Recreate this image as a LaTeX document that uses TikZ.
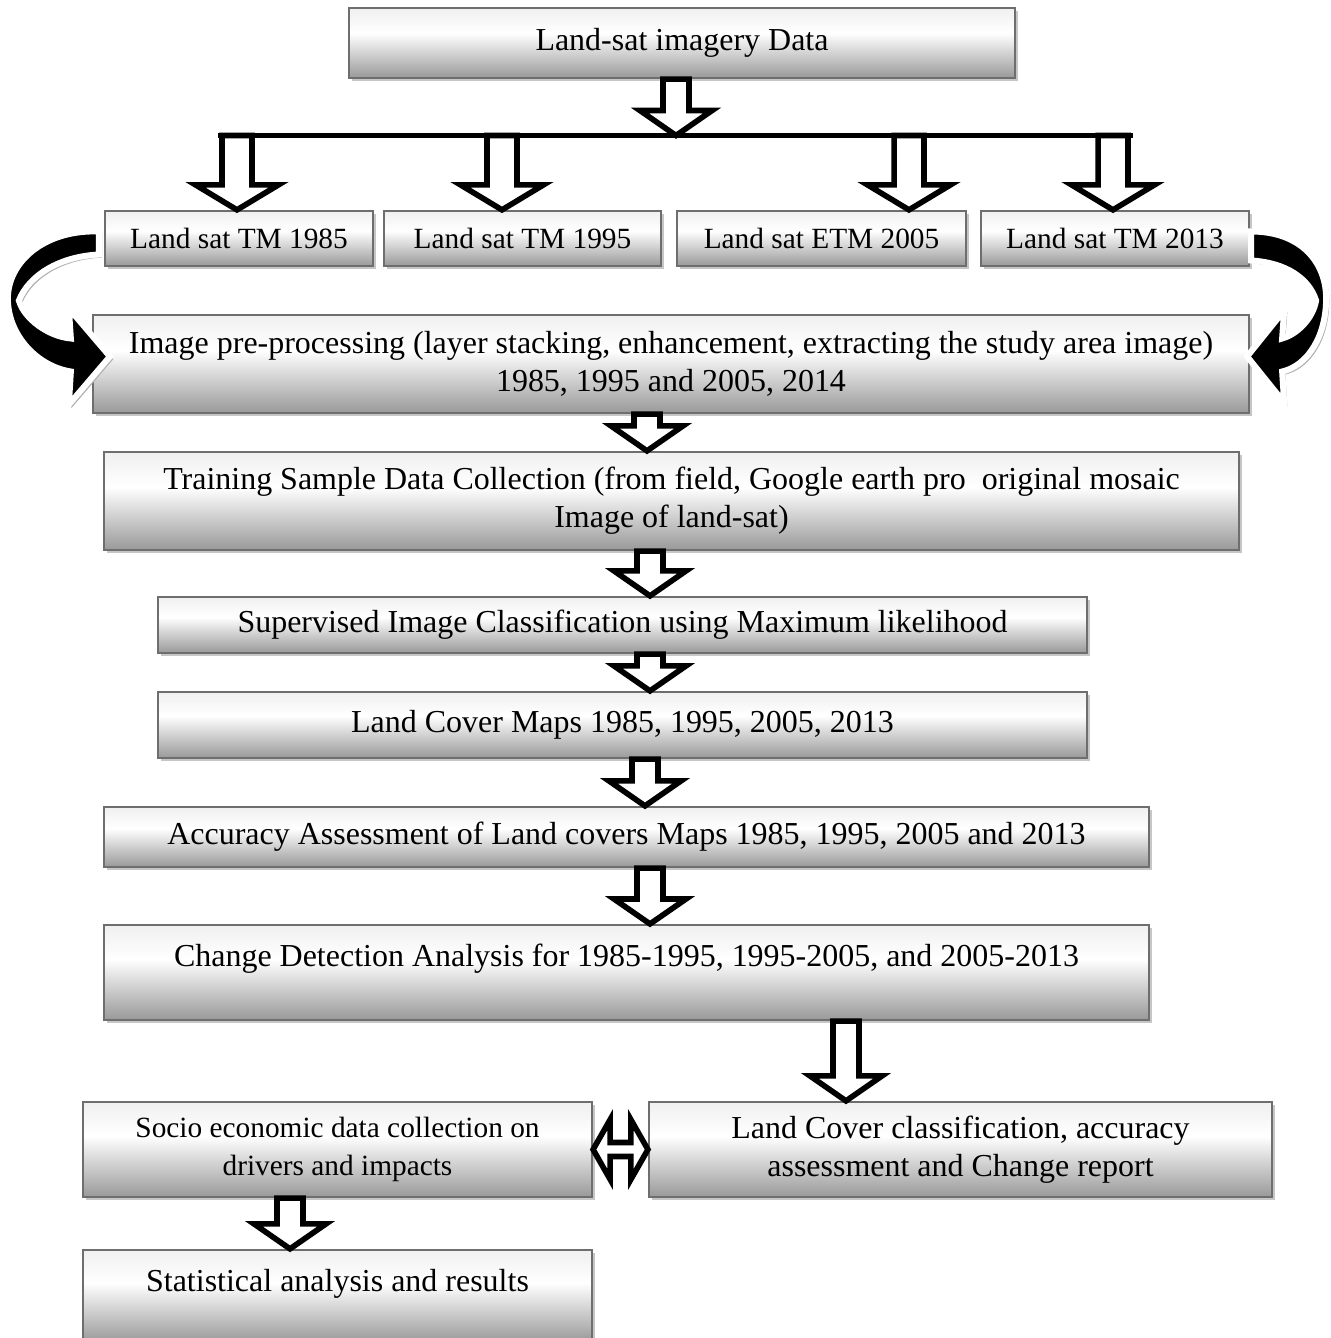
\documentclass[tikz,border=0pt]{standalone}
\usepackage{fontspec}
\setmainfont{Liberation Serif}
\usepackage{tikz}
\usetikzlibrary{calc, shadows}
\newcommand{\boxfont}{\fontsize{18.2pt}{21.5pt}\selectfont}
\newcommand{\rowfont}{\fontsize{16.7pt}{21.5pt}\selectfont}
\pgfdeclareverticalshading{boxfade}{100bp}{color(0bp)=(gray!80); color(25bp)=(gray!80); color(57bp)=(white); color(75bp)=(gray!12); color(100bp)=(gray!12)}
\tikzstyle{process} = [rectangle, draw=black!57, line width=1.3pt, shade, shading=boxfade, drop shadow={shadow xshift=1.8pt, shadow yshift=-1.8pt, fill=gray!45, opacity=1}, inner sep=0pt, align=center, text centered, font=\boxfont]
\tikzstyle{rowbox} = [process, font=\rowfont]
\tikzstyle{hollow} = [draw=black, fill=white, line width=3.2pt, line join=miter]
\tikzstyle{busline} = [draw=black, line width=3pt]
\tikzstyle{bendarrow} = [fill=black, draw=white, line width=3.4pt, line join=miter, preaction={fill=gray!60, draw=gray!60, transform canvas={xshift=1.6pt, yshift=-1.6pt}}]
% hollow block arrow: [width factor]{x}{from}{to}
\newcommand{\hollowdown}[4][1]{%
  \draw[hollow] let \p1=(#2,0), \p2=(#3), \p3=(#4) in
    (\x1-#1*7.4pt,\y2) -- (\x1-#1*7.4pt,\y3+14.2pt) -- (\x1-#1*20.5pt,\y3+14.2pt)
    -- (\x1,\y3) -- (\x1+#1*20.5pt,\y3+14.2pt) -- (\x1+#1*7.4pt,\y3+14.2pt)
    -- (\x1+#1*7.4pt,\y2) -- cycle;}

\begin{document}
\begin{tikzpicture}[x=0.02cm, y=-0.02cm]
            \useasboundingbox (0,0) rectangle (1331,1338);

            \node (landsat-data) [process, minimum width=13.32cm, minimum height=1.40cm] at (682,43) {Land-sat imagery Data};
            \node (tm-1985) [rowbox, minimum width=5.36cm, minimum height=1.10cm] at (239,238.5) {Land sat TM 1985};
            \node (tm-1995) [rowbox, minimum width=5.54cm, minimum height=1.10cm] at (522.5,238.5) {Land sat TM 1995};
            \node (etm-2005) [rowbox, minimum width=5.78cm, minimum height=1.10cm] at (821.5,238.5) {Land sat ETM 2005};
            \node (tm-2013) [rowbox, minimum width=5.36cm, minimum height=1.10cm] at (1115,238.5) {Land sat TM 2013};
            \node (pre-processing) [process, minimum width=23.12cm, minimum height=1.96cm] at (671,364) {Image pre-processing (layer stacking, enhancement, extracting the study area image)\\1985, 1995 and 2005, 2014};
            \node (training) [process, minimum width=22.70cm, minimum height=1.96cm] at (671.5,501) {Training Sample Data Collection (from field, Google earth pro\ \ original mosaic\\Image of land-sat)};
            \node (classification) [process, minimum width=18.58cm, minimum height=1.12cm] at (622.5,625) {Supervised Image Classification using Maximum likelihood};
            \node (cover-maps) [process, minimum width=18.58cm, minimum height=1.32cm] at (622.5,725) {Land Cover Maps 1985, 1995, 2005, 2013};
            \node (accuracy) [process, minimum width=20.90cm, minimum height=1.20cm] at (626.5,837) {Accuracy Assessment of Land covers Maps 1985, 1995, 2005 and 2013};
            \node (change-detection) [process, minimum width=20.90cm, text height=23.3pt, text depth=30.7pt] at (626.5,972.5) {Change Detection Analysis for 1985-1995, 1995-2005, and 2005-2013};
            \node (socio-economic) [rowbox, minimum width=10.18cm, minimum height=1.90cm] at (337.5,1149.5) {Socio economic data collection on\\drivers and impacts};
            \node (cover-report) [process, minimum width=12.46cm, minimum height=1.90cm] at (960.5,1149.5) {Land Cover classification, accuracy\\assessment and Change report};
            \node (statistics) [process, minimum width=10.18cm, text height=23.9pt, text depth=28.5pt] at (337.5,1296) {Statistical analysis and results};

            % branching to the four scenes
            \coordinate (bus) at (676,135.5);
            \coordinate (bus-left) at (218,135.5);
            \coordinate (bus-right) at (1133,135.5);
            \draw [busline] (bus-left) -- (bus-right);
            \hollowdown{676}{landsat-data.south}{bus}
            \hollowdown[1.15]{237}{bus}{tm-1985.north}
            \hollowdown[1.15]{502}{bus}{tm-1995.north}
            \hollowdown[1.15]{909}{bus}{etm-2005.north}
            \hollowdown[1.15]{1113}{bus}{tm-2013.north}

            % curved arrows into pre-processing
            \begin{scope}[shift={(tm-1985.west)}]
                \draw [bendarrow] (-5,-7) .. controls (-60,-9) and (-96,24) .. (-96,60)
                    .. controls (-96,97) and (-66,128) .. (-33,133)
                    -- (-35,166) -- (6,118) -- (-35,70) -- (-33,100)
                    .. controls (-56,98) and (-80,80) .. (-85,62)
                    .. controls (-75,37) and (-45,18) .. (-5,16) -- cycle;
            \end{scope}
            \begin{scope}[shift={(tm-2013.east)}]
                \draw [bendarrow] (1,-7) .. controls (51,-7) and (76,24) .. (76,60)
                    .. controls (76,97) and (58,127) .. (32,133)
                    -- (34,164) -- (-3,118) -- (34,72) -- (32,100)
                    .. controls (47,96) and (63,80) .. (66,62)
                    .. controls (59,40) and (36,24) .. (1,22) -- cycle;
            \end{scope}

            \hollowdown{647}{pre-processing.south}{training.north}
            \hollowdown{650}{training.south}{classification.north}
            \hollowdown{650}{classification.south}{cover-maps.north}
            \hollowdown{645}{cover-maps.south}{accuracy.north}
            \hollowdown{650}{accuracy.south}{change-detection.north}
            \hollowdown{846}{change-detection.south}{cover-report.north}
            \hollowdown{290}{socio-economic.south}{statistics.north}

            % two-way link
            \draw [hollow] let \p1=(socio-economic.east), \p2=(cover-report.west) in
                (\x1,\y1) -- (\x1+9.7pt,\y1+17pt) -- (\x1+9.7pt,\y1+4pt) -- (\x2-9.7pt,\y1+4pt)
                -- (\x2-9.7pt,\y1+17pt) -- (\x2,\y1) -- (\x2-9.7pt,\y1-17pt) -- (\x2-9.7pt,\y1-4pt)
                -- (\x1+9.7pt,\y1-4pt) -- (\x1+9.7pt,\y1-17pt) -- cycle;
        \end{tikzpicture}
\end{document}
